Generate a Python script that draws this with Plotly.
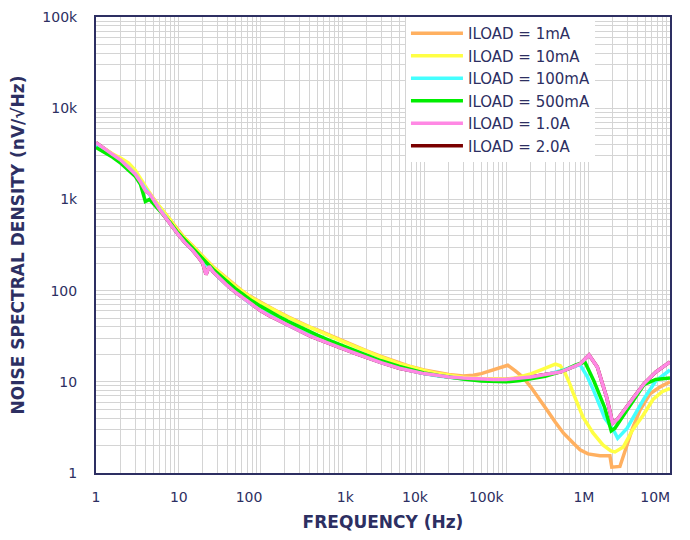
import plotly.graph_objects as go

# ---------------- data ----------------
series_names = ["ILOAD = 1mA", "ILOAD = 10mA", "ILOAD = 100mA",
                "ILOAD = 500mA", "ILOAD = 1.0A", "ILOAD = 2.0A"]

f_1mA = [1, 1.3, 1.6, 2, 2.5, 3, 3.5, 4, 4.5, 5, 6, 7, 8, 10, 12, 15, 18, 22, 27, 33, 40, 50, 60, 75,
         100, 130, 170, 220, 300, 400, 500, 700, 1000, 1500, 2000, 3000, 5000, 7000, 10000, 15000,
         20000, 30000, 40000, 50000, 70000, 105000, 130000, 160000, 200000, 250000, 316000, 400000,
         500000, 660000, 800000, 1000000, 1400000, 1850000, 1950000, 2450000, 2600000, 2850000,
         3250000, 3500000, 4300000, 5700000, 7600000, 10000000]
v_1mA = [3900, 3400, 3050, 2700, 2300, 1950, 1600, 1350, 1150, 1000, 820, 700, 600, 455, 380, 312, 260,
         218, 181, 155, 133, 113, 100, 87, 75, 66, 58, 51.5, 45, 40, 37, 32.5, 28.5, 24.5, 21.8, 19, 16,
         14.6, 13.5, 12.5, 12, 11.6, 11.8, 12.3, 13.5, 15.2, 13.2, 11.3, 8.8, 6.5, 4.9, 3.6, 2.75, 2.13,
         1.8, 1.62, 1.55, 1.55, 1.16, 1.18, 1.4, 1.8, 2.6, 3.1, 4.9, 7.4, 8.8, 10]

f_10mA = [1, 1.3, 1.6, 2, 2.5, 3, 3.5, 4, 4.5, 5, 6, 7, 8, 10, 12, 15, 18, 22, 27, 33, 40, 50, 60, 75,
          100, 130, 170, 220, 300, 400, 500, 700, 1000, 1500, 2000, 3000, 5000, 7000, 10000, 15000,
          20000, 30000, 50000, 70000, 100000, 130000, 160000, 200000, 250000, 316000, 400000, 460000,
          525000, 600000, 660000, 870000, 1150000, 1520000, 1900000, 2130000, 2700000, 3500000,
          4700000, 6200000, 8000000, 10000000]
v_10mA = [4100, 3500, 3150, 2850, 2500, 2100, 1700, 1400, 1180, 1020, 830, 700, 600, 450, 378, 310, 258,
          216, 180, 153, 132, 112, 99, 86, 74, 65, 57.5, 51, 44.5, 39.5, 36.5, 32, 28, 24, 21.5, 18.7,
          15.8, 14.4, 13.3, 12.3, 11.8, 11.2, 10.9, 10.7, 10.7, 11, 11.5, 12.2, 13.2, 14.5, 15.6, 15,
          12.5, 9.5, 7.5, 4.1, 2.75, 2.03, 1.75, 1.7, 1.93, 2.96, 4.3, 6.4, 7.8, 8.5]

f_100mA = [1, 1.3, 1.6, 2, 2.5, 3, 3.5, 4, 4.5, 5, 6, 7, 8, 10, 12, 15, 18, 22, 27, 33, 40, 50, 60, 75,
           100, 130, 170, 220, 300, 400, 500, 700, 1000, 1500, 2000, 3000, 5000, 7000, 10000, 15000,
           20000, 30000, 50000, 70000, 100000, 150000, 200000, 300000, 500000, 650000, 800000, 975000,
           1180000, 1600000, 2070000, 2300000, 3000000, 4800000, 6700000, 10000000]
v_100mA = [3900, 3400, 3050, 2650, 2250, 1900, 1550, 1300, 1100, 960, 780, 650, 550, 420, 345, 280, 232,
           192, 158, 134, 115, 97, 86, 73, 62, 54, 47.5, 42, 36.5, 32.5, 30, 26.5, 23.5, 20.5, 18.5, 16.3,
           14.2, 13.1, 12.3, 11.6, 11.2, 10.8, 10.4, 10.3, 10.3, 10.6, 11, 11.8, 13.5, 14.6, 15.4, 11.5,
           7.9, 4.0, 2.9, 2.4, 3.1, 6.5, 10.2, 13.5]

f_500mA = [1, 1.3, 1.6, 2, 2.5, 3, 3.5, 4, 4.5, 5, 6, 7, 8, 10, 12, 15, 18, 22, 27, 33, 40, 50, 60, 75,
           100, 130, 170, 220, 300, 400, 500, 700, 1000, 1500, 2000, 3000, 5000, 7000, 10000, 15000,
           20000, 30000, 50000, 70000, 100000, 150000, 200000, 300000, 500000, 700000, 915000, 1180000,
           1600000, 1920000, 2130000, 3000000, 4800000, 6700000, 10000000]
v_500mA = [3700, 3250, 2900, 2500, 2100, 1800, 1450, 950, 1000, 900, 760, 650, 560, 430, 360, 295, 245,
           205, 170, 145, 124, 105, 93, 80, 68, 59, 52, 46, 40, 35.5, 32.5, 28.5, 25, 21.8, 19.5, 17,
           14.7, 13.5, 12.5, 11.7, 11.2, 10.7, 10.2, 10.0, 10.0, 10.3, 10.7, 11.5, 13.2, 15.2, 16.5, 10.2,
           5.2, 2.9, 3.1, 5.0, 9.3, 10.6, 11]

f_1A = [1, 1.3, 1.6, 2, 2.5, 3, 3.5, 4, 4.5, 5, 6, 7, 8, 10, 12, 15, 18, 20, 22, 24, 27, 33, 40, 50, 60,
        75, 100, 130, 170, 220, 300, 400, 500, 700, 1000, 1500, 2000, 3000, 5000, 7000, 10000, 15000,
        20000, 30000, 50000, 70000, 100000, 150000, 200000, 300000, 460000, 800000, 1030000, 1300000,
        1700000, 2000000, 2300000, 3000000, 4800000, 6700000, 10000000]
v_1A = [4200, 3500, 3100, 2700, 2250, 1900, 1550, 1250, 1150, 980, 770, 640, 540, 415, 340, 278, 228,
        200, 150, 185, 160, 134, 114, 96, 85, 72, 61, 53, 47, 41.5, 36, 32, 29.5, 26, 23.2, 20.3, 18.4,
        16.2, 14.1, 13.1, 12.3, 11.7, 11.3, 11, 10.7, 10.6, 10.6, 10.9, 11.3, 12, 12.8, 15.7, 19.7,
        14.5, 6.6, 3.5, 3.9, 5.4, 9.5, 12.8, 16.5]

# the 2.0A measurement lies directly under the 1.0A curve
f_2A = f_1A
v_2A = v_1A

# axis labels
x_tick_text = ["1", "10", "100", "1k", "10k", "100k", "1M", "10M"]
y_tick_text = ["1", "10", "100", "1k", "10k", "100k"]

# ---------------- figure ----------------
NAVY = "#2d2f62"
GRID = "#d4d4d4"
FONT = "DejaVu Sans, Open Sans, sans-serif"
colors = ["#ffb060", "#ffff44", "#44ffff", "#00ee00", "#ff88e4", "#7a0000"]
series = [(f_1mA, v_1mA), (f_10mA, v_10mA), (f_100mA, v_100mA),
          (f_500mA, v_500mA), (f_1A, v_1A), (f_2A, v_2A)]

# drawing order: 2.0A underneath, then 1mA, 10mA, 100mA, 500mA, 1.0A on top
draw_order = [5, 0, 1, 2, 3, 4]
fig = go.Figure()
for i in draw_order:
    fx, fy = series[i]
    fig.add_trace(go.Scatter(
        x=fx, y=fy, mode="lines", name=series_names[i],
        line=dict(color=colors[i], width=3.5), legendrank=i + 1,
        hoverinfo="x+y+name"))

# label positions as printed on the original chart (decades in log units)
x_label_pos = [0.0, 1.01, 1.866, 3.04, 3.89, 4.76, 5.95, 6.82]
minor_vals_x = [m * 10 ** d for d in range(0, 7) for m in range(1, 10)] + [1e7]
minor_vals_y = [m * 10 ** d for d in range(0, 5) for m in range(1, 10)] + [1e5]

fig.update_xaxes(
    type="log", range=[0, 7], automargin=False,
    tickmode="array", tickvals=[10 ** p for p in x_label_pos], ticktext=x_tick_text,
    showgrid=False, ticks="", ticklabelstandoff=10,
    minor=dict(tickmode="array", tickvals=minor_vals_x, showgrid=True,
               gridcolor=GRID, gridwidth=1, ticks=""),
    showline=True, linecolor=NAVY, linewidth=2, mirror=True, zeroline=False,
    tickfont=dict(size=14, color=NAVY, family=FONT),
    title=dict(text="FREQUENCY (Hz)", font=dict(size=17, color=NAVY, family=FONT, weight="bold"),
               standoff=12),
)
fig.update_yaxes(
    type="log", range=[0, 5], automargin=False,
    tickmode="array", tickvals=[1, 10, 100, 1000, 10000, 100000], ticktext=y_tick_text,
    showgrid=True, gridcolor=GRID, gridwidth=1, ticks="", ticklabelstandoff=14,
    minor=dict(tickmode="array", tickvals=minor_vals_y, showgrid=True,
               gridcolor=GRID, gridwidth=1, ticks=""),
    showline=True, linecolor=NAVY, linewidth=2, mirror=True, zeroline=False,
    tickfont=dict(size=14, color=NAVY, family=FONT),
    title=dict(text="NOISE SPECTRAL DENSITY (nV/√Hz)",
               font=dict(size=17, color=NAVY, family=FONT, weight="bold"), standoff=20),
)

fig.update_layout(
    width=690, height=540, autosize=False,
    margin=dict(l=88, r=28, t=9, b=75),
    paper_bgcolor="white", plot_bgcolor="white",
    font=dict(family=FONT, color=NAVY, size=15),
    legend=dict(x=0.54, y=1, xanchor="left", yanchor="top", bgcolor="white",
                borderwidth=0, font=dict(size=15, color=NAVY, family=FONT), itemwidth=52,
                tracegroupgap=0),
    showlegend=True,
)

fig.write_html("out.html")
